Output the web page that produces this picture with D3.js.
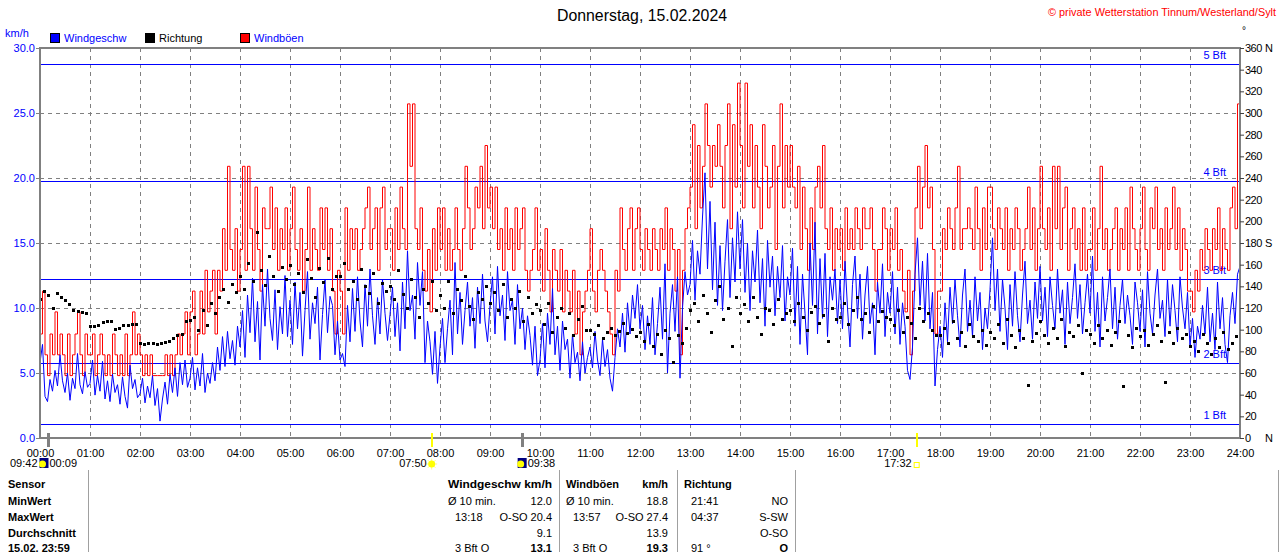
<!DOCTYPE html>
<html><head><meta charset="utf-8">
<script src="https://cdn.jsdelivr.net/npm/d3@7"></script>
<style>
html,body{margin:0;padding:0;background:#fff;overflow:hidden;}
svg{display:block;font-family:"Liberation Sans",Arial,sans-serif;}
</style></head><body>
<svg id="c" width="1280" height="552"></svg>
<script>
// ---------- data ----------
const hourLabels = ["00:00","01:00","02:00","03:00","04:00","05:00","06:00","07:00","08:00","09:00","10:00","11:00","12:00","13:00","14:00","15:00","16:00","17:00","18:00","19:00","20:00","21:00","22:00","23:00","24:00"];
const speedTicks = [0,5,10,15,20,25,30];
const dirTicks = [0,20,40,60,80,100,120,140,160,180,200,220,240,260,280,300,320,340,360];
const dirLetters = {0:"N",180:"S",360:"N"};
const bftLevels = [1.08,5.76,12.24,19.8,28.8];
const bftLabels = ["1 Bft","2 Bft","3 Bft","4 Bft","5 Bft"];
const seriesNames = ["Windgeschw","Richtung","Windböen"];
const seriesColors = ["#0000ff","#000000","#ff0000"];

// wind speed km/h, one value every 3 minutes (00:00 .. 24:00)
const windSpeed = [
5.8,7.2,3.2,2.8,4.5,3.6,5.2,4.0,6.4,4.4,3.5,5.0,2.9,4.6,3.8,6.5,4.1,3.4,5.1,3.9,
4.2,6.0,3.3,4.8,3.6,5.9,3.0,4.4,2.8,4.9,3.5,4.1,2.6,4.7,3.2,2.3,5.6,3.8,4.5,3.1,
3.4,4.6,2.7,4.0,3.1,4.8,2.5,3.8,1.3,3.0,4.3,2.6,4.9,3.5,5.4,3.2,5.8,4.1,6.0,3.9,
4.6,6.2,3.7,5.4,4.0,6.5,3.5,5.0,4.2,5.8,4.4,7.0,5.2,7.8,5.5,8.2,6.1,7.5,5.6,8.6,
7.0,9.8,6.2,11.0,8.1,12.3,7.4,10.5,6.0,11.8,8.6,13.0,9.2,7.5,11.4,6.8,10.1,8.0,12.5,7.8,
10.6,7.2,12.0,8.4,11.2,6.3,9.8,12.8,7.6,10.4,8.8,11.6,6.0,9.5,12.2,8.1,10.9,10.2,6.4,9.0,
6.0,6.5,5.5,10.2,7.4,11.5,8.2,12.4,9.0,7.0,11.8,8.6,13.0,9.4,7.2,10.8,8.0,12.2,9.6,7.5,
9.5,11.6,7.8,10.4,6.7,12.0,8.4,14.4,9.8,11.0,7.6,13.5,10.2,12.8,5.8,9.0,7.4,4.9,8.2,4.2,
7.0,9.2,5.8,8.4,10.6,6.4,13.5,8.0,11.2,7.2,9.8,12.0,8.6,10.8,6.9,11.6,8.8,12.6,9.0,7.4,
10.2,12.4,8.0,13.2,9.4,11.0,7.5,12.8,9.8,10.6,7.2,11.8,8.4,10.0,6.8,9.4,7.9,5.6,8.6,4.8,
6.0,8.8,5.4,9.6,7.2,11.5,6.4,8.6,5.2,9.0,6.8,7.6,4.6,8.0,5.8,6.6,4.4,7.4,5.0,6.2,
7.0,5.4,8.2,6.0,4.8,7.6,5.5,6.8,4.6,3.6,6.2,8.4,7.0,9.6,6.6,10.4,8.0,11.0,9.2,11.8,
8.4,10.2,6.8,9.4,7.2,10.8,6.4,8.8,11.6,7.6,13.4,5.0,9.6,11.8,8.2,12.4,4.6,10.0,12.8,11.0,
11.8,15.2,10.6,14.4,12.6,17.0,20.4,13.0,18.2,11.4,16.6,10.2,14.8,9.8,13.6,16.8,10.8,15.4,12.0,17.4,
13.0,16.8,11.2,15.0,9.8,14.4,12.0,16.0,10.4,13.8,8.6,15.2,11.6,14.0,9.4,13.2,10.8,14.8,9.0,12.4,
11.0,14.6,8.6,13.2,7.2,12.6,9.6,6.4,15.0,10.2,16.6,8.0,13.8,9.2,14.2,7.8,12.4,10.6,13.0,8.8,
12.2,8.4,13.6,10.0,7.0,11.8,14.0,9.2,12.6,7.6,11.0,13.2,8.8,10.4,6.4,12.0,9.6,13.4,7.8,11.2,
9.6,12.8,8.0,11.6,7.2,10.4,8.6,5.2,4.5,7.0,12.6,15.4,10.2,13.6,9.0,14.2,8.4,11.2,4.0,6.8,
8.6,6.2,10.4,7.4,11.6,8.8,12.2,9.4,7.0,11.0,13.0,8.2,10.6,7.8,12.4,9.0,11.2,6.8,10.0,8.4,
11.4,15.4,9.8,13.0,8.2,12.2,10.0,6.8,11.8,8.6,12.8,9.4,7.4,11.0,13.6,8.8,10.6,7.6,12.0,9.2,
13.2,9.0,11.6,7.8,12.4,10.2,8.4,13.0,9.6,11.4,7.2,12.0,8.8,10.8,13.4,9.2,11.8,8.0,10.4,12.6,
9.6,14.0,8.2,11.2,7.0,12.4,9.0,10.8,13.0,8.4,11.6,7.6,10.2,12.2,8.8,11.0,9.4,7.2,12.0,10.4,
8.2,11.4,7.0,12.8,9.6,8.0,11.0,13.0,9.2,10.6,7.8,12.2,8.6,11.8,9.8,7.4,12.4,10.0,8.4,11.2,
7.0,9.2,6.2,8.6,7.6,10.2,8.0,11.6,7.4,9.6,6.8,12.0,8.4,10.8,7.2,5.8,9.4,11.2,8.8,12.6,
13.2];

// gusts km/h, one value every 3 minutes
const windGust = [
8.0,11.3,6.4,4.8,8.0,6.4,9.7,6.4,8.0,6.4,4.8,8.0,4.8,6.4,8.0,9.7,6.4,4.8,8.0,6.4,
6.4,8.0,4.8,6.4,8.0,6.4,4.8,6.4,4.8,8.0,6.4,4.8,6.4,4.8,8.0,4.8,6.4,9.7,6.4,8.0,
6.4,4.8,6.4,4.8,6.4,4.8,4.8,4.8,4.8,4.8,6.4,4.8,6.4,4.8,6.4,8.0,6.4,8.0,9.7,6.4,
9.7,11.3,6.4,8.0,11.3,8.0,12.9,9.7,11.3,12.9,8.0,12.9,11.3,16.1,12.9,20.9,14.5,12.9,16.1,11.3,
14.5,20.9,12.9,20.9,16.1,12.9,19.3,14.5,11.3,17.7,16.1,16.1,19.3,14.5,17.7,12.9,16.1,14.5,17.7,12.9,
16.1,19.3,14.5,12.9,16.1,11.3,14.5,19.3,12.9,16.1,14.5,12.9,17.7,14.5,17.7,12.9,16.1,11.3,8.0,12.9,
11.3,8.0,17.7,12.9,16.1,14.5,16.1,12.9,14.5,16.1,17.7,19.3,14.5,16.1,17.7,12.9,17.7,19.3,14.5,16.1,
16.1,12.9,17.7,14.5,19.3,16.1,14.5,25.7,20.9,25.7,16.1,14.5,17.7,12.9,11.3,14.5,9.7,16.1,12.9,17.7,
14.5,17.7,12.9,16.1,12.9,14.5,17.7,14.5,12.9,16.1,20.9,17.7,14.5,16.1,19.3,17.7,20.9,16.1,22.5,17.7,
19.3,16.1,19.3,14.5,16.1,12.9,17.7,14.5,16.1,12.9,17.7,14.5,16.1,17.7,12.9,11.3,12.9,14.5,17.7,12.9,
14.5,11.3,16.1,12.9,9.7,14.5,12.9,11.3,14.5,9.7,12.9,11.3,9.7,12.9,8.0,11.3,6.4,9.7,11.3,12.9,
16.1,11.3,9.7,12.9,14.5,12.9,11.3,9.7,8.0,6.4,12.9,11.3,17.7,14.5,12.9,16.1,17.7,12.9,16.1,17.7,
14.5,12.9,16.1,14.5,12.9,16.1,14.5,12.9,16.1,14.5,17.7,12.9,16.1,14.5,11.3,14.5,6.4,12.9,16.1,17.7,
19.3,24.1,16.1,22.5,17.7,20.9,25.7,22.5,19.3,22.5,20.9,24.1,20.9,17.7,22.5,25.7,16.1,24.1,19.3,27.3,
22.5,17.7,27.3,20.9,24.1,17.7,22.5,19.3,16.1,24.1,20.9,17.7,19.3,22.5,14.5,20.9,25.7,17.7,22.5,19.3,
22.5,19.3,17.7,20.9,14.5,19.3,16.1,12.9,17.7,14.5,19.3,20.9,17.7,22.5,16.1,14.5,17.7,12.9,16.1,14.5,
16.1,12.9,17.7,14.5,16.1,14.5,17.7,16.1,14.5,17.7,16.1,16.1,17.7,14.5,11.3,14.5,14.5,17.7,16.1,12.9,
16.1,14.5,17.7,12.9,14.5,11.3,9.7,12.9,6.4,11.3,17.7,20.9,16.1,19.3,22.5,17.7,19.3,14.5,8.0,11.3,
11.3,16.1,14.5,17.7,16.1,14.5,17.7,20.9,14.5,16.1,16.1,17.7,16.1,14.5,19.3,16.1,12.9,17.7,14.5,19.3,
19.3,16.1,14.5,17.7,16.1,14.5,17.7,12.9,16.1,14.5,17.7,16.1,12.9,14.5,16.1,19.3,14.5,17.7,12.9,16.1,
20.9,16.1,14.5,17.7,12.9,20.9,16.1,20.9,14.5,17.7,19.3,12.9,16.1,17.7,14.5,16.1,12.9,17.7,12.9,14.5,
14.5,17.7,12.9,16.1,20.9,14.5,16.1,12.9,14.5,16.1,17.7,12.9,16.1,14.5,17.7,12.9,19.3,16.1,14.5,12.9,
16.1,19.3,14.5,12.9,17.7,16.1,19.3,14.5,16.1,12.9,17.7,14.5,16.1,19.3,14.5,17.7,12.9,16.1,14.5,11.3,
11.3,9.7,12.9,11.3,14.5,12.9,16.1,14.5,12.9,16.1,14.5,17.7,12.9,16.1,14.5,12.9,17.7,19.3,16.1,25.7,
22.5];

// wind direction degrees, one value every 5 minutes
const windDir = [
128,136,132,120,134,130,127,124,118,117,116,115,
103,103,104,107,108,108,101,102,104,104,105,105,
88,87,88,88,87,88,89,90,92,95,96,108,
109,112,100,118,104,125,115,130,138,126,142,135,
150,138,162,145,190,155,141,168,150,136,158,147,
160,142,152,135,165,148,130,157,144,166,138,150,
150,162,138,145,128,156,140,134,152,125,143,136,
140,128,155,133,120,147,130,112,138,125,145,118,
132,120,145,115,138,127,150,122,110,135,128,140,
125,135,118,142,112,128,120,136,108,130,115,124,
118,105,125,98,112,120,102,115,95,110,122,100,
100,96,104,92,98,102,95,99,106,97,101,94,
98,90,105,85,96,78,100,92,70,95,88,102,
118,125,108,132,115,98,127,140,110,120,85,130,
115,124,108,130,112,96,120,118,105,128,110,115,
118,108,125,112,100,116,122,106,114,90,120,110,
112,125,105,118,130,110,115,98,122,108,117,112,
110,104,118,98,112,106,92,120,108,115,100,95,
95,102,88,108,92,98,85,105,94,90,100,86,
98,92,105,88,110,95,84,100,92,49,90,97,
108,95,88,102,92,110,85,98,94,104,60,100,
96,88,104,92,100,86,98,108,48,95,84,102,
94,100,86,96,104,90,52,98,88,102,92,96,
85,90,80,96,88,78,92,84,98,82,88,94];

// sun / moon events (minutes of day)
const sunEvents = [{t:470,label:"07:50"},{t:1052,label:"17:32"}];
const moonEvents = [{t:9,label:"00:09",prev:"09:42"},{t:578,label:"09:38"}];

// statistics table
const rowLabels = ["Sensor","MinWert","MaxWert","Durchschnitt","15.02. 23:59"];
const speedCol = [["Windgeschw km/h",""],["Ø 10 min.","12.0"],["13:18","O-SO 20.4"],["","9.1"],["3 Bft O","13.1"]];
const gustCol  = [["Windböen","km/h"],["Ø 10 min.","18.8"],["13:57","O-SO 27.4"],["","13.9"],["3 Bft O","19.3"]];
const dirCol   = [["Richtung",""],["21:41","NO"],["04:37","S-SW"],["","O-SO"],["91 °","O"]];

// ---------- drawing ----------
const svg = d3.select("#c");
const L = 40, R = 1240, T = 48, B = 438;
const x = d3.scaleLinear().domain([0,1440]).range([L,R]);
const y = d3.scaleLinear().domain([0,30]).range([B,T]);
const yd = d3.scaleLinear().domain([0,360]).range([B,T]);

function txt(px, py, s, o = {}) {
  const t = svg.append("text").attr("x", px).attr("y", py).attr("dy", "0.35em")
    .attr("font-size", o.size || 11).attr("fill", o.fill || "#000")
    .attr("text-anchor", o.anchor || "start").text(s);
  if (o.bold) t.attr("font-weight", "bold");
  if (o.len) t.attr("textLength", o.len).attr("lengthAdjust", "spacingAndGlyphs");
  return t;
}

// title & copyright
txt(642, 15, "Donnerstag, 15.02.2024", {size: 16, anchor: "middle", len: 170});
txt(1048, 12, "© private Wetterstation Tinnum/Westerland/Sylt", {size: 11, fill: "#ff0000", len: 228});
txt(1242, 30, "°", {size: 10});
txt(5, 33, "km/h", {fill: "#0000ff"});

// legend
const legX = [50, 145, 240];
seriesNames.forEach((n, i) => {
  svg.append("rect").attr("x", legX[i] + 0.5).attr("y", 33.5).attr("width", 9).attr("height", 9)
    .attr("fill", seriesColors[i]).attr("stroke", "#000");
  txt(legX[i] + 14, 38, n, {fill: i === 1 ? "#000" : "#0000ff"});
});

// grid
const grid = svg.append("g").attr("stroke", "#808080").attr("stroke-dasharray", "4,4").attr("stroke-width", 1);
speedTicks.filter(v => v > 0 && v < 30).forEach(v => {
  grid.append("line").attr("x1", L).attr("x2", R).attr("y1", Math.round(y(v)) + 0.5).attr("y2", Math.round(y(v)) + 0.5);
});
d3.range(1, 24).forEach(h => {
  grid.append("line").attr("y1", T).attr("y2", B).attr("x1", Math.round(x(h * 60)) + 0.5).attr("x2", Math.round(x(h * 60)) + 0.5);
});

// Beaufort lines
bftLevels.forEach((v, i) => {
  const yy = Math.round(y(v)) + 0.5;
  svg.append("line").attr("x1", L).attr("x2", R).attr("y1", yy).attr("y2", yy).attr("stroke", "#0000ff");
  txt(1226, yy - 9, bftLabels[i], {fill: "#0000ff", anchor: "end"});
});

// data
svg.append("clipPath").attr("id", "pc").append("rect").attr("x", L).attr("y", T).attr("width", R - L).attr("height", B - T);
const data = svg.append("g").attr("clip-path", "url(#pc)");

const gustLine = d3.line().x((d, i) => x(i * 3)).y(d => y(d)).curve(d3.curveStepAfter);
data.append("path").attr("d", gustLine(windGust)).attr("fill", "none").attr("stroke", "#ff0000").attr("stroke-width", 1);

const speedLine = d3.line().x((d, i) => x(i * 3)).y(d => y(d));
data.append("path").attr("d", speedLine(windSpeed)).attr("fill", "none").attr("stroke", "#0000ff").attr("stroke-width", 1);

data.selectAll("rect.dir").data(windDir).join("rect").attr("class", "dir")
  .attr("x", (d, i) => Math.round(x(i * 5)) - 1).attr("y", d => Math.round(yd(d)) - 1)
  .attr("width", 3).attr("height", 3).attr("fill", "#000");

// frame
svg.append("rect").attr("x", L).attr("y", T).attr("width", R - L).attr("height", B - T)
  .attr("fill", "none").attr("stroke", "#808080").attr("stroke-width", 2);

// axes
const ax1 = svg.append("g").attr("transform", `translate(${L},0)`)
  .call(d3.axisLeft(y).tickValues(speedTicks).tickFormat(d3.format(".1f")).tickSize(4).tickPadding(1));
ax1.select(".domain").remove();
ax1.selectAll("line").attr("stroke", "#808080");
ax1.selectAll("text").attr("fill", "#0000ff").attr("font-size", 11).attr("font-family", null);

const ax2 = svg.append("g").attr("transform", `translate(0,${B})`)
  .call(d3.axisBottom(x).tickValues(hourLabels.map((d, i) => i * 60)).tickFormat((d, i) => hourLabels[i]).tickSize(0).tickPadding(11));
ax2.select(".domain").remove();
ax2.selectAll("text").attr("fill", "#000").attr("font-size", 11).attr("font-family", null);

const ax3 = svg.append("g").attr("transform", `translate(${R},0)`)
  .call(d3.axisRight(yd).tickValues(dirTicks).tickSize(4).tickPadding(1));
ax3.select(".domain").remove();
ax3.selectAll("line").attr("stroke", "#404040");
ax3.selectAll("text").attr("fill", "#000").attr("font-size", 11).attr("font-family", null).attr("letter-spacing", "-0.5px");
Object.keys(dirLetters).forEach(k => txt(1265, yd(+k), dirLetters[k], {size: 11}));

// sun & moon markers
sunEvents.forEach(e => {
  const px = Math.round(x(e.t));
  svg.append("line").attr("x1", px).attr("x2", px).attr("y1", 433).attr("y2", 447).attr("stroke", "#ffff00").attr("stroke-width", 2);
});
moonEvents.forEach(e => {
  const px = Math.round(x(e.t)) + 0.5;
  svg.append("line").attr("x1", px).attr("x2", px).attr("y1", 433).attr("y2", 447).attr("stroke", "#808080").attr("stroke-width", 3);
});
// sunrise icon + label
(function () {
  const px = x(sunEvents[0].t);
  const g = svg.append("g").attr("transform", `translate(${px},464)`);
  d3.range(8).forEach(k => {
    const a = k * Math.PI / 4;
    g.append("line").attr("x1", Math.cos(a) * 3).attr("y1", Math.sin(a) * 3).attr("x2", Math.cos(a) * 5.5).attr("y2", Math.sin(a) * 5.5)
      .attr("stroke", "#ffff80").attr("stroke-width", 1);
  });
  g.append("circle").attr("r", 3.5).attr("fill", "#ffff00");
  txt(px - 5, 463, sunEvents[0].label, {anchor: "end"});
})();
// sunset icon + label
(function () {
  const px = x(sunEvents[1].t);
  svg.append("rect").attr("x", px - 2.5).attr("y", 462.5).attr("width", 5).attr("height", 5).attr("fill", "none").attr("stroke", "#ffff00");
  txt(px - 5, 463, sunEvents[1].label, {anchor: "end"});
})();
function moonIcon(cx) {
  svg.append("rect").attr("x", cx - 4).attr("y", 458).attr("width", 9).attr("height", 10).attr("fill", "#000080");
  svg.append("circle").attr("cx", cx - 1).attr("cy", 464).attr("r", 3.5).attr("fill", "#ffff00");
}
(function () {
  const px = x(moonEvents[0].t);
  moonIcon(px - 4);
  txt(px - 10, 463, moonEvents[0].prev, {anchor: "end"});
  txt(px + 2, 463, moonEvents[0].label);
  const p2 = x(moonEvents[1].t);
  moonIcon(p2);
  txt(p2 + 6, 463, moonEvents[1].label);
})();

// statistics table
[88.5, 559.5, 677.5, 795.5, 1278.5].forEach(px => {
  svg.append("line").attr("x1", px).attr("x2", px).attr("y1", 470).attr("y2", 552).attr("stroke", "#a0a0a0");
});
const rowY = [484, 501, 517, 533, 548];
rowLabels.forEach((s, i) => txt(8, rowY[i], s, {bold: true}));
function drawCol(col, left, indentFrom, indent, right, headLen) {
  col.forEach((c, i) => {
    const lx = (i === 0 || i < indentFrom) ? left : left + indent;
    if (c[0]) txt(lx, rowY[i], c[0], {bold: i === 0, len: (i === 0 && headLen) ? headLen : null});
    if (c[1]) txt(right, rowY[i], c[1], {anchor: "end", bold: i === 0 || i === 4});
  });
}
drawCol(speedCol, 448, 2, 7, 552, 104);
drawCol(gustCol, 566, 2, 7, 668, null);
drawCol(dirCol, 684, 1, 7, 788, null);
</script>
</body></html>
